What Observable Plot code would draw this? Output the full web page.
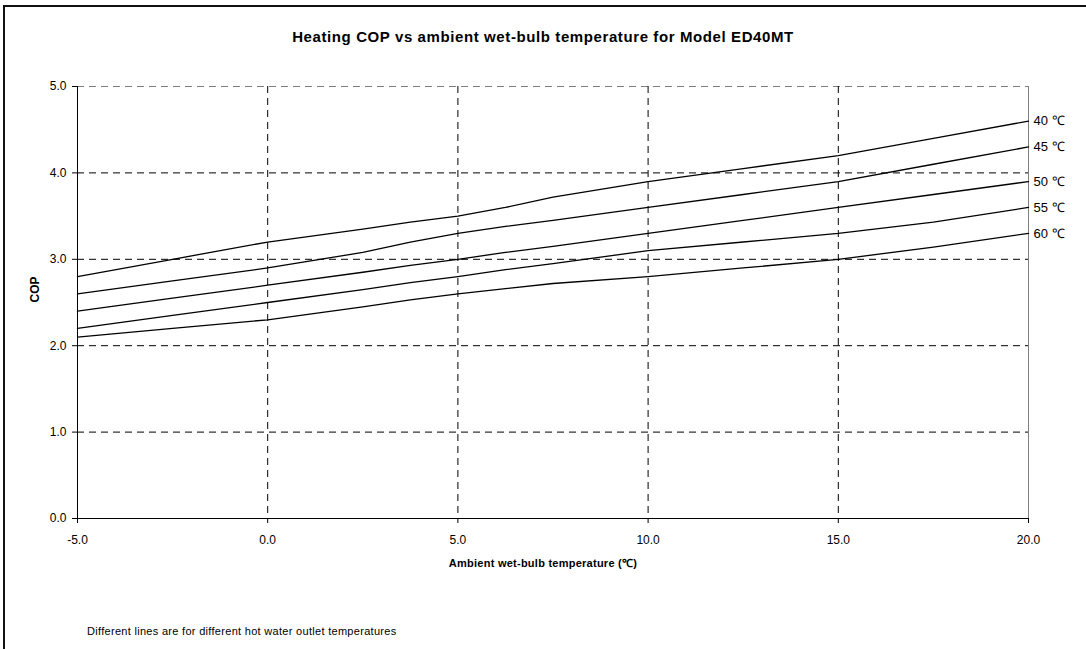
<!DOCTYPE html>
<html>
<head>
<meta charset="utf-8">
<script src="https://cdn.jsdelivr.net/npm/d3@7"></script>
<script src="https://cdn.jsdelivr.net/npm/@observablehq/plot@0.6"></script>
<style>
  html, body { margin: 0; padding: 0; background: #fff; }
  body { width: 1086px; height: 649px; position: relative; overflow: hidden; font-family: "Liberation Sans", Arial, sans-serif; }
  #frame { position: absolute; left: 3px; top: 5px; width: 1200px; height: 800px; border: 2px solid #111; box-sizing: border-box; }
  #chart { position: absolute; left: 0; top: 0; }
  #title { position: absolute; left: 0; width: 1086px; top: 28px; text-align: center; font-weight: bold; font-size: 15px; letter-spacing: 0.6px; color: #000; }
  #xlabel { position: absolute; left: 0; width: 1086px; top: 555px; text-align: center; font-weight: bold; font-size: 11px; letter-spacing: 0.25px; color: #000; }
  #caption { position: absolute; left: 87px; top: 625px; font-size: 11px; letter-spacing: 0.3px; color: #000; }
</style>
</head>
<body>
<div id="frame"></div>
<div id="chart"></div>
<div id="title">Heating COP vs ambient wet-bulb temperature for Model ED40MT</div>
<div id="xlabel">Ambient wet-bulb temperature (℃)</div>
<div id="caption">Different lines are for different hot water outlet temperatures</div>
<script>
// Ambient wet-bulb temperature (°C)
const temps = [-5, -2.5, 0, 2.5, 3.75, 5, 6.25, 7.5, 10, 12.5, 15, 17.5, 20];
// COP for each hot water outlet temperature
const series = ["40 ℃", "45 ℃", "50 ℃", "55 ℃", "60 ℃"];
const cop40 = [2.80, 3.00, 3.20, 3.35, 3.43, 3.50, 3.60, 3.72, 3.90, 4.05, 4.20, 4.40, 4.60];
const cop45 = [2.60, 2.75, 2.90, 3.08, 3.20, 3.30, 3.38, 3.45, 3.60, 3.75, 3.90, 4.10, 4.30];
const cop50 = [2.40, 2.55, 2.70, 2.85, 2.93, 3.00, 3.08, 3.15, 3.30, 3.45, 3.60, 3.75, 3.90];
const cop55 = [2.20, 2.35, 2.50, 2.65, 2.73, 2.80, 2.88, 2.95, 3.10, 3.20, 3.30, 3.43, 3.60];
const cop60 = [2.10, 2.20, 2.30, 2.45, 2.53, 2.60, 2.66, 2.72, 2.80, 2.90, 3.00, 3.14, 3.30];
const xTicks = [-5, 0, 5, 10, 15, 20];
const yTicks = [0, 1, 2, 3, 4, 5];

const allCop = [cop40, cop45, cop50, cop55, cop60];
const data = [];
series.forEach((s, i) => temps.forEach((t, j) => data.push({series: s, t, cop: allCop[i][j]})));
const ends = series.map((s, i) => ({series: s, t: temps[temps.length - 1], cop: allCop[i][temps.length - 1]}));

const xMin = d3.min(xTicks), xMax = d3.max(xTicks);
const yMin = d3.min(yTicks), yMax = d3.max(yTicks);
const fmt = d => d.toFixed(1);

const chart = Plot.plot({
  width: 1086,
  height: 649,
  marginLeft: 77,
  marginRight: 58,
  marginTop: 86,
  marginBottom: 131,
  style: {fontFamily: "Liberation Sans, Arial, sans-serif", fontSize: "12px", color: "#000", background: "transparent"},
  x: {domain: [xMin, xMax]},
  y: {domain: [yMin, yMax]},
  marks: [
    Plot.gridY(yTicks.filter(v => v > yMin && v < yMax), {stroke: "#000", strokeOpacity: 1, strokeDasharray: "7,5"}),
    Plot.gridY([yMax], {stroke: "#808080", strokeOpacity: 1, strokeDasharray: "7,5"}),
    Plot.gridX(xTicks.filter(v => v > xMin && v < xMax), {stroke: "#000", strokeOpacity: 1, strokeDasharray: "7,5"}),
    Plot.ruleX([xMax], {stroke: "#808080"}),
    Plot.ruleX([xMin], {stroke: "#000"}),
    Plot.ruleY([yMin], {stroke: "#000"}),
    Plot.axisX({ticks: xTicks, tickFormat: fmt, tickSize: 5, tickPadding: 12, label: null, fontSize: 12}),
    Plot.axisY({ticks: yTicks, tickFormat: fmt, tickSize: 5, tickPadding: 6, label: null, fontSize: 12}),
    Plot.line(data, {x: "t", y: "cop", z: "series", stroke: "#000", strokeWidth: 1.3, curve: "linear"}),
    Plot.text(ends, {x: "t", y: "cop", text: "series", textAnchor: "start", dx: 5, fontSize: 13}),
    Plot.text(["COP"], {frameAnchor: "left", dx: -42, rotate: -90, fontWeight: "bold", fontSize: 12})
  ]
});
document.getElementById("chart").appendChild(chart);
</script>
</body>
</html>
